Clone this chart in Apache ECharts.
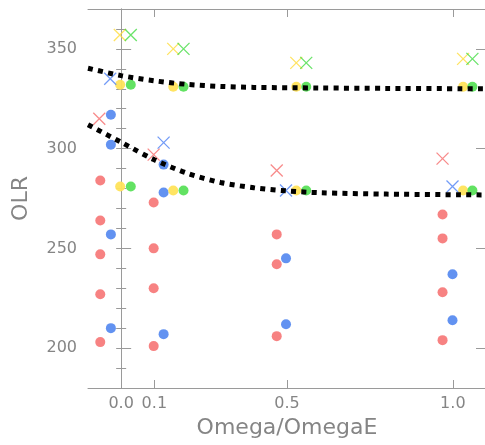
<!DOCTYPE html>
<html>
<head>
<meta charset="utf-8">
<script src="https://cdn.jsdelivr.net/npm/echarts@6/dist/echarts.min.js"></script>
<style>
  html, body { margin: 0; padding: 0; background: #fff; }
  #chart { width: 485px; height: 445px; }
</style>
</head>
<body>
<div id="chart"></div>
<script>
// tick labels
const xTicks = [0.0, 0.1, 0.5, 1.0];
const yTicks = [200, 250, 300, 350];

// filled dots [omega, olr]
const redDots = [
  [-0.063, 284], [-0.063, 264], [-0.063, 247], [-0.063, 227], [-0.063, 203],
  [0.098, 273], [0.098, 250], [0.098, 230], [0.098, 201],
  [0.469, 257], [0.469, 242], [0.469, 206],
  [0.969, 267], [0.969, 255], [0.969, 228], [0.969, 204]
];
const blueDots = [
  [-0.031, 317], [-0.031, 302], [-0.031, 257], [-0.031, 210],
  [0.128, 292], [0.128, 278], [0.128, 207],
  [0.497, 245], [0.497, 212],
  [0.999, 237], [0.999, 214]
];
const yellowDots = [
  [-0.003, 332], [-0.003, 281], [0.157, 331], [0.157, 279],
  [0.528, 331], [0.528, 279], [1.031, 331], [1.031, 279]
];
const greenDots = [
  [0.029, 332], [0.029, 281], [0.188, 331], [0.188, 279],
  [0.558, 331], [0.558, 279], [1.059, 331], [1.059, 279]
];

// crosses
const redCross = [[-0.066, 315], [0.098, 297], [0.469, 289], [0.969, 295]];
const blueCross = [[-0.033, 335], [0.128, 303], [0.497, 279], [0.999, 281]];
const yellowCross = [[-0.004, 357], [0.157, 350], [0.528, 343], [1.031, 345]];
const greenCross = [[0.029, 357], [0.188, 350], [0.558, 343], [1.059, 345]];

// dotted fit curves
const upperCurve = [
  [-0.1, 340.3], [0.0, 336.6], [0.1, 334], [0.2, 332.2], [0.3, 331.2], [0.4, 330.7],
  [0.6, 330.4], [0.8, 330.2], [1.1, 330]
];
const lowerCurve = [
  [-0.1, 312], [0.0, 303.2], [0.1, 294.4], [0.2, 287.6], [0.3, 283], [0.4, 280.4],
  [0.5, 278.8], [0.6, 277.9], [0.8, 277.2], [1.1, 276.8]
];

const chart = echarts.init(document.getElementById("chart"));

const axisColor = "#9a9a9a";
const textColor = "#858585";
const fontFamily = "DejaVu Sans";
const crossPath = "path://M0,0L12,12M12,0L0,12";

const gridBox = { left: 88, top: 9, width: 398, height: 379, outerBoundsMode: "none" };

function dots(data, color) {
  return {
    type: "scatter",
    xAxisIndex: 0,
    yAxisIndex: 0,
    symbol: "circle",
    symbolSize: 10,
    itemStyle: { color: color, opacity: 0.95 },
    data: data,
  };
}
function crosses(data, color) {
  return {
    type: "scatter",
    xAxisIndex: 0,
    yAxisIndex: 0,
    symbol: crossPath,
    symbolSize: 12,
    itemStyle: { color: "transparent", borderColor: color, borderWidth: 1.3 },
    data: data,
  };
}
function curve(data) {
  return {
    type: "line",
    xAxisIndex: 0,
    yAxisIndex: 0,
    smooth: 0.3,
    symbol: "none",
    z: 5,
    lineStyle: { color: "#000", width: 5, type: [5, 5.3], cap: "butt" },
    data: data,
  };
}

const option = {
  animation: false,
  backgroundColor: "#fff",
  grid: [gridBox, gridBox],
  xAxis: [
    {
      gridIndex: 0,
      type: "value",
      position: "bottom",
      min: -0.1,
      max: 1.1,
      axisLine: { lineStyle: { color: axisColor } },
      axisTick: { inside: true, length: 8, customValues: xTicks, lineStyle: { color: axisColor } },
      axisLabel: {
        customValues: xTicks,
        formatter: (v) => v.toFixed(1),
        color: textColor,
        fontSize: 16,
        fontFamily: fontFamily,
        margin: 8,
      },
      splitLine: { show: false },
      name: "Omega/OmegaE",
      nameLocation: "middle",
      nameGap: 28,
      nameTextStyle: { color: textColor, fontSize: 22, fontFamily: fontFamily },
    },
    {
      gridIndex: 0,
      type: "value",
      position: "top",
      min: -0.1,
      max: 1.1,
      axisLine: { lineStyle: { color: axisColor } },
      axisTick: { inside: true, length: 8, customValues: xTicks, lineStyle: { color: axisColor } },
      axisLabel: { show: false },
      splitLine: { show: false },
    },
    { gridIndex: 1, type: "value", min: -0.1, max: 1.1, show: false },
  ],
  yAxis: [
    {
      gridIndex: 0,
      type: "value",
      position: "left",
      min: 180,
      max: 370,
      interval: 10,
      axisLine: { show: true, lineStyle: { color: axisColor } },
      axisTick: { show: true, inside: true, length: 5, lineStyle: { color: axisColor } },
      axisLabel: {
        customValues: yTicks,
        color: textColor,
        fontSize: 16,
        fontFamily: fontFamily,
        margin: 11,
      },
      splitLine: { show: false },
      name: "OLR",
      nameLocation: "middle",
      nameGap: 56,
      nameTextStyle: { color: textColor, fontSize: 22, fontFamily: fontFamily },
    },
    {
      gridIndex: 0,
      type: "value",
      position: "right",
      min: 180,
      max: 370,
      interval: 10,
      axisLine: { show: true, lineStyle: { color: axisColor } },
      axisTick: { show: true, inside: true, length: 5, lineStyle: { color: axisColor } },
      axisLabel: { show: false },
      splitLine: { show: false },
    },
    {
      gridIndex: 1,
      type: "value",
      position: "left",
      min: 180,
      max: 370,
      axisLine: { show: false },
      axisTick: { show: true, inside: true, length: 10, customValues: yTicks, lineStyle: { color: axisColor } },
      axisLabel: { show: false },
      splitLine: { show: false },
    },
    {
      gridIndex: 1,
      type: "value",
      position: "right",
      min: 180,
      max: 370,
      axisLine: { show: false },
      axisTick: { show: true, inside: true, length: 10, customValues: yTicks, lineStyle: { color: axisColor } },
      axisLabel: { show: false },
      splitLine: { show: false },
    },
  ],
  series: [
    dots(redDots, "#f77b7b"),
    dots(blueDots, "#5a8cf0"),
    dots(yellowDots, "#ffe35a"),
    dots(greenDots, "#5ae05a"),
    crosses(redCross, "#f66e6e"),
    crosses(blueCross, "#4f82f5"),
    crosses(yellowCross, "#ffdc3a"),
    crosses(greenCross, "#45dc45"),
    curve(upperCurve),
    curve(lowerCurve),
  ],
};

chart.setOption(option);
</script>
</body>
</html>
